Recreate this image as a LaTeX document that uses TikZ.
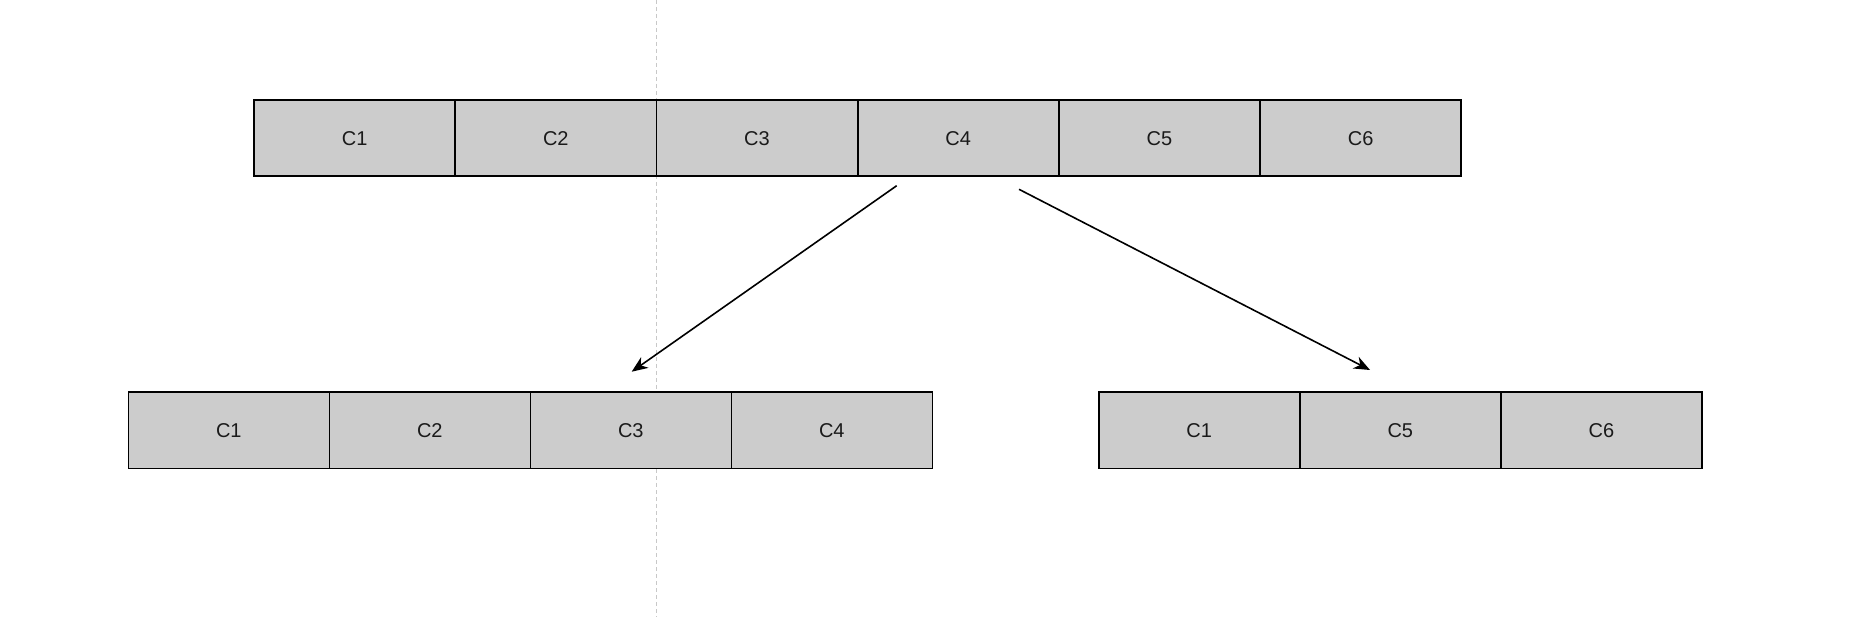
\documentclass[tikz,border=0pt]{standalone}
\usepackage{fontspec}
\setmainfont{Liberation Sans}
\usetikzlibrary{arrows.meta}
\definecolor{cellfill}{HTML}{CCCCCC}
\definecolor{guide}{HTML}{C8C8C8}
\definecolor{celltext}{HTML}{1A1A1A}
\begin{document}
\begin{tikzpicture}[x=1pt,y=-1pt,
  cell/.style={draw=black, fill=cellfill, line width=1.6pt, minimum width=201pt, minimum height=76pt,
    inner sep=0pt, outer sep=0pt, text=celltext, font=\fontsize{20}{24}\selectfont},
  guideline/.style={draw=guide, line width=1pt, dash pattern=on 4pt off 3pt},
  conn/.style={draw=black, line width=1.6pt, -{Stealth[length=16pt,width=13pt,inset=5pt]}}]
\useasboundingbox (0,0) rectangle (1869,617);
\fill[white] (0,0) rectangle (1869,617);
\coordinate (g1) at (656.7,0);
\coordinate (g2) at (656.7,617);
\draw[guideline] (g1) -- (g2);
% top row
\foreach \i/\x in {1/354.6,2/555.8,3/757,4/958.2,5/1159.4,6/1360.6}
  \node[cell] (t\i) at (\x,138.3) {C\i};
% bottom left
\foreach \i/\x in {1/228.8,2/429.8,3/630.8,4/831.8}
  \node[cell] (l\i) at (\x,430.3) {C\i};
% bottom right
\node[cell] (r1) at (1199.2,430.3) {C1};
\node[cell] (r2) at (1400.3,430.3) {C5};
\node[cell] (r3) at (1601.5,430.3) {C6};
\coordinate (a1s) at (896.7,185.7);
\coordinate (a1e) at (631.7,371.7);
\coordinate (a2s) at (1019,189.3);
\coordinate (a2e) at (1370,370);
\draw[conn] (a1s) -- (a1e);
\draw[conn] (a2s) -- (a2e);
\end{tikzpicture}
\end{document}
